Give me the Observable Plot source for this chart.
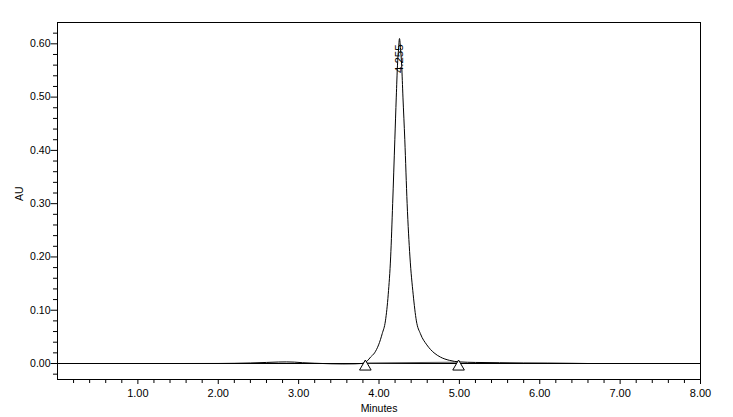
<!DOCTYPE html>
<html>
<head>
<meta charset="utf-8">
<script src="https://cdn.jsdelivr.net/npm/d3@7"></script>
<script src="https://cdn.jsdelivr.net/npm/@observablehq/plot@0.6"></script>
<style>
  html, body { margin: 0; padding: 0; background: #fff; }
  svg { display: block; }
</style>
</head>
<body>
<div id="chart"></div>
<script>
// Chromatogram trace (minutes, AU)
const times = [0.00, 0.50, 1.00, 1.50, 2.00, 2.20, 2.40, 2.60, 2.75, 2.85, 2.95, 3.05, 3.20, 3.40, 3.55, 3.70, 3.78,
  3.820, 3.855, 3.895, 3.945, 3.995, 4.040, 4.080, 4.115, 4.145, 4.170, 4.197, 4.215, 4.230, 4.243, 4.255,
  4.268, 4.282, 4.298, 4.321, 4.350, 4.385, 4.425, 4.465, 4.515, 4.595, 4.685, 4.765, 4.875, 5.000,
  5.20, 5.50, 5.80, 6.10, 6.40, 6.60, 7.00, 8.00];
const au = [0.0000, 0.0000, 0.0000, 0.0000, 0.0001, 0.0004, 0.0010, 0.0020, 0.0028, 0.0030, 0.0026, 0.0015, 0.0005, -0.0005, -0.0008, -0.0006, 0.0000,
  0.0015, 0.005, 0.012, 0.020, 0.035, 0.056, 0.080, 0.130, 0.200, 0.300, 0.420, 0.500, 0.560, 0.590, 0.610,
  0.590, 0.560, 0.500, 0.420, 0.300, 0.200, 0.130, 0.080, 0.056, 0.035, 0.020, 0.012, 0.006, 0.003,
  0.002, 0.0015, 0.001, 0.0008, 0.0004, 0.0000, 0.0000, 0.0000];

// Peak annotation
const peakTime = [4.255];
const peakLabel = ["4.255"];
const peakLabelAU = [0.545];

// Integration start/end markers and baseline
const markTimes = [3.83, 4.99];
const markAU = [-0.006, -0.006];
const intBaseAU = [0.0010, 0.0025];

// Axes
const xDomain = [0, 8];
const yDomain = [-0.03, 0.64];
const xMajor = [1, 2, 3, 4, 5, 6, 7, 8];
const xMajorLabels = ["1.00", "2.00", "3.00", "4.00", "5.00", "6.00", "7.00", "8.00"];
const xMinor = [0.2, 0.4, 0.6, 0.8, 1.2, 1.4, 1.6, 1.8, 2.2, 2.4, 2.6, 2.8, 3.2, 3.4, 3.6, 3.8,
  4.2, 4.4, 4.6, 4.8, 5.2, 5.4, 5.6, 5.8, 6.2, 6.4, 6.6, 6.8, 7.2, 7.4, 7.6, 7.8];
const yMajor = [0.00, 0.10, 0.20, 0.30, 0.40, 0.50, 0.60];
const yMajorLabels = ["0.00", "0.10", "0.20", "0.30", "0.40", "0.50", "0.60"];
const yMinor = [-0.02, 0.02, 0.04, 0.06, 0.08, 0.12, 0.14, 0.16, 0.18, 0.22, 0.24, 0.26, 0.28,
  0.32, 0.34, 0.36, 0.38, 0.42, 0.44, 0.46, 0.48, 0.52, 0.54, 0.56, 0.58, 0.62];
const xTitle = "Minutes";
const yTitle = "AU";

const W = 733, H = 417;
const mL = 57, mR = 33, mT = 22, mB = 38;
const xPerPx = (xDomain[1] - xDomain[0]) / (W - mL - mR);
const yPerPx = (yDomain[1] - yDomain[0]) / (H - mT - mB);

const trace = times.map((t, i) => ({t, v: au[i]}));
const marks = markTimes.map((t, i) => ({t, v: markAU[i], b: intBaseAU[i]}));
const font = "'Liberation Sans', Arial, sans-serif";

const chart = Plot.plot({
  width: W,
  height: H,
  marginLeft: mL, marginRight: mR, marginTop: mT, marginBottom: mB,
  style: {fontFamily: font, background: "#fff", overflow: "visible"},
  x: {domain: xDomain, axis: null},
  y: {domain: yDomain, axis: null},
  marks: [
    Plot.ruleY([0], {stroke: "black", strokeWidth: 1}),
    Plot.line(marks, {x: "t", y: "b", stroke: "#555", strokeWidth: 1}),
    Plot.line(trace, {x: "t", y: "v", stroke: "black", strokeWidth: 1, curve: "monotone-x"}),
    Plot.dot(marks, {x: "t", y: "v", symbol: "triangle", r: 4.3, fill: "white", stroke: "black", strokeWidth: 1}),
    Plot.text(peakTime.map((t, i) => ({t, v: peakLabelAU[i], s: peakLabel[i]})),
      {x: "t", y: "v", text: "s", rotate: -90, textAnchor: "start", fontSize: 11.5, fill: "black"}),
    // frame
    Plot.frame({stroke: "black", strokeWidth: 1}),
    // x ticks
    Plot.ruleX(xMajor, {x: d => d, y1: yDomain[0], y2: yDomain[0] - 5 * yPerPx, stroke: "black"}),
    Plot.ruleX(xMinor, {x: d => d, y1: yDomain[0], y2: yDomain[0] - 4 * yPerPx, stroke: "black"}),
    Plot.text(xMajor, {x: d => d, y: yDomain[0], text: (d, i) => xMajorLabels[i], dy: 14, fontSize: 11, fill: "black"}),
    // y ticks
    Plot.ruleY(yMajor, {y: d => d, x1: xDomain[0], x2: xDomain[0] - 6.5 * xPerPx, stroke: "black"}),
    Plot.ruleY(yMinor, {y: d => d, x1: xDomain[0], x2: xDomain[0] - 4 * xPerPx, stroke: "black"}),
    Plot.text(yMajor, {x: xDomain[0], y: d => d, text: (d, i) => yMajorLabels[i], dx: -7, textAnchor: "end", fontSize: 10.5, fill: "black"}),
    // titles
    Plot.text([xTitle], {frameAnchor: "bottom", dy: 32, text: d => d, fontSize: 10.5, fill: "black"}),
    Plot.text([yTitle], {frameAnchor: "left", dx: -38, rotate: -90, text: d => d, fontSize: 10.5, fill: "black"})
  ]
});
document.getElementById("chart").appendChild(chart);
</script>
</body>
</html>
